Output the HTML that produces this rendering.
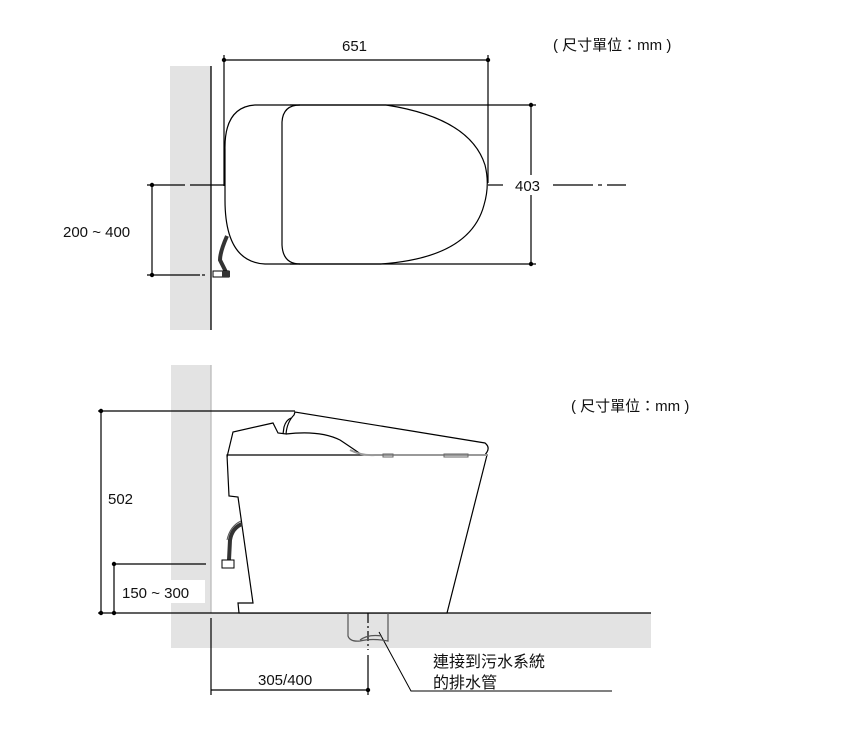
<!DOCTYPE html>
<html><head><meta charset="utf-8"><style>
html,body{margin:0;padding:0;background:#fff;}
svg{display:block;}
text{font-family:"Liberation Sans","Noto Sans CJK TC",sans-serif;fill:#111;}
</style></head><body>
<svg width="843" height="735" viewBox="0 0 843 735" xmlns="http://www.w3.org/2000/svg">
<!-- TOP VIEW -->
<rect x="170" y="66" width="41" height="264" fill="#e3e3e3"/>
<line x1="211" y1="66" x2="211" y2="330" stroke="#000" stroke-width="1.3"/>
<text x="553" y="50" font-size="15">( 尺寸單位：mm )</text>
<text x="342" y="51" font-size="15">651</text>
<g stroke="#000" stroke-width="1.2" fill="none">
<line x1="224" y1="60" x2="488" y2="60"/>
<line x1="224" y1="55" x2="224" y2="186"/>
<line x1="488" y1="55" x2="488" y2="183"/>
<line x1="290" y1="105" x2="536" y2="105"/>
<line x1="290" y1="264" x2="536" y2="264"/>
<line x1="531" y1="105" x2="531" y2="175"/>
<line x1="531" y1="195" x2="531" y2="264"/>
<line x1="152" y1="185" x2="152" y2="275"/>
<line x1="147" y1="185" x2="185" y2="185"/>
<line x1="190" y1="185" x2="224" y2="185"/>
<line x1="488" y1="185" x2="503" y2="185"/>
<line x1="553" y1="185" x2="593" y2="185"/>
<line x1="598" y1="185" x2="602" y2="185"/>
<line x1="607" y1="185" x2="626" y2="185"/>
<line x1="147" y1="275" x2="200" y2="275"/>
<line x1="202" y1="275" x2="205" y2="275"/>
<path d="M300 105 H255 Q224 107 225 150 V200 Q225 262 265 264 H380 Q470 258 484 205 Q490 185 485 165 Q470 118 386 105 Z"/>
<path d="M300 105 Q283 105 282 122 V245 Q283 264 300 264"/>
</g>
<g fill="#000"><circle cx="224" cy="60" r="2.2"/><circle cx="488" cy="60" r="2.2"/><circle cx="531" cy="105" r="2.2"/><circle cx="531" cy="264" r="2.2"/><circle cx="152" cy="185" r="2.2"/><circle cx="152" cy="275" r="2.2"/></g>
<path d="M227 236 Q220 252 220 260 L226 272" stroke="#333" stroke-width="4" fill="none"/>
<rect x="213" y="271" width="16" height="6" fill="#fff" stroke="#000" stroke-width="1"/>
<rect x="222" y="271" width="8" height="6" fill="#333"/>
<text x="515" y="191" font-size="15">403</text>
<text x="63" y="237" font-size="15">200 ~ 400</text>

<!-- SIDE VIEW -->
<rect x="171" y="365" width="40" height="283" fill="#e3e3e3"/>
<rect x="211" y="613" width="440" height="35" fill="#e3e3e3"/>
<line x1="211" y1="365" x2="211" y2="613" stroke="#bbb" stroke-width="1.3"/>
<text x="571" y="411" font-size="15">( 尺寸單位：mm )</text>
<g stroke="#000" stroke-width="1.2" fill="none">
<line x1="98" y1="613" x2="651" y2="613"/>
<line x1="101" y1="411" x2="101" y2="613"/>
<line x1="98" y1="411" x2="295" y2="411"/>
<line x1="114" y1="564" x2="114" y2="613"/>
<line x1="114" y1="564" x2="206" y2="564"/>
<line x1="211" y1="618" x2="211" y2="695"/>
<line x1="211" y1="690" x2="368" y2="690"/>
<line x1="368" y1="613" x2="368" y2="650" stroke-dasharray="10,3,2,3"/>
<line x1="368" y1="655" x2="368" y2="695"/>
<path d="M379 632 L411 691 H612" stroke-width="1"/>
<path d="M227 455 L229 496 L238 497 L253 603 L238 603 L239 613 L447 613 L487 455 Z" fill="#fff"/>
<path d="M227 457 L233 432 L273 423 L278 433 L286 434 Q287 422 294 415 L295 412 L485 443 Q490 447 487 452 L485 455"/>
<path d="M283 434 L284 427 Q286 420 291 418"/>
<path d="M286 434 Q320 430 340 440 Q355 450 362 455" />
<path d="M350 450 Q362 456 375 455 H487" stroke="#999" stroke-width="2"/>
<rect x="383" y="454" width="10" height="3" stroke="#666" stroke-width="1"/>
<rect x="444" y="454" width="24" height="3" stroke="#666" stroke-width="1"/>
<path d="M348 613 V636 Q350 642 360 641 Q372 638 388 641 V613" stroke="#555"/>
<path d="M360 640 Q368 634 382 636" stroke="#555"/>
</g>
<g fill="#000"><circle cx="101" cy="411" r="2.2"/><circle cx="101" cy="613" r="2.2"/><circle cx="114" cy="564" r="2.2"/><circle cx="114" cy="613" r="2.2"/><circle cx="368" cy="690" r="2.2"/></g>
<path d="M242 524 Q232 528 230 540 L229 560" stroke="#333" stroke-width="4" fill="none"/>
<path d="M241 521 Q230 526 227 540" stroke="#555" stroke-width="1" fill="none"/>
<rect x="222" y="560" width="12" height="8" fill="#fff" stroke="#000" stroke-width="1"/>
<rect x="118" y="580" width="87" height="23" fill="#fff"/>
<text x="122" y="598" font-size="15">150 ~ 300</text>
<text x="108" y="504" font-size="15">502</text>
<text x="258" y="685" font-size="15">305/400</text>
<text x="433" y="667" font-size="16">連接到污水系統</text>
<text x="433" y="688" font-size="16">的排水管</text>
</svg>
</body></html>
